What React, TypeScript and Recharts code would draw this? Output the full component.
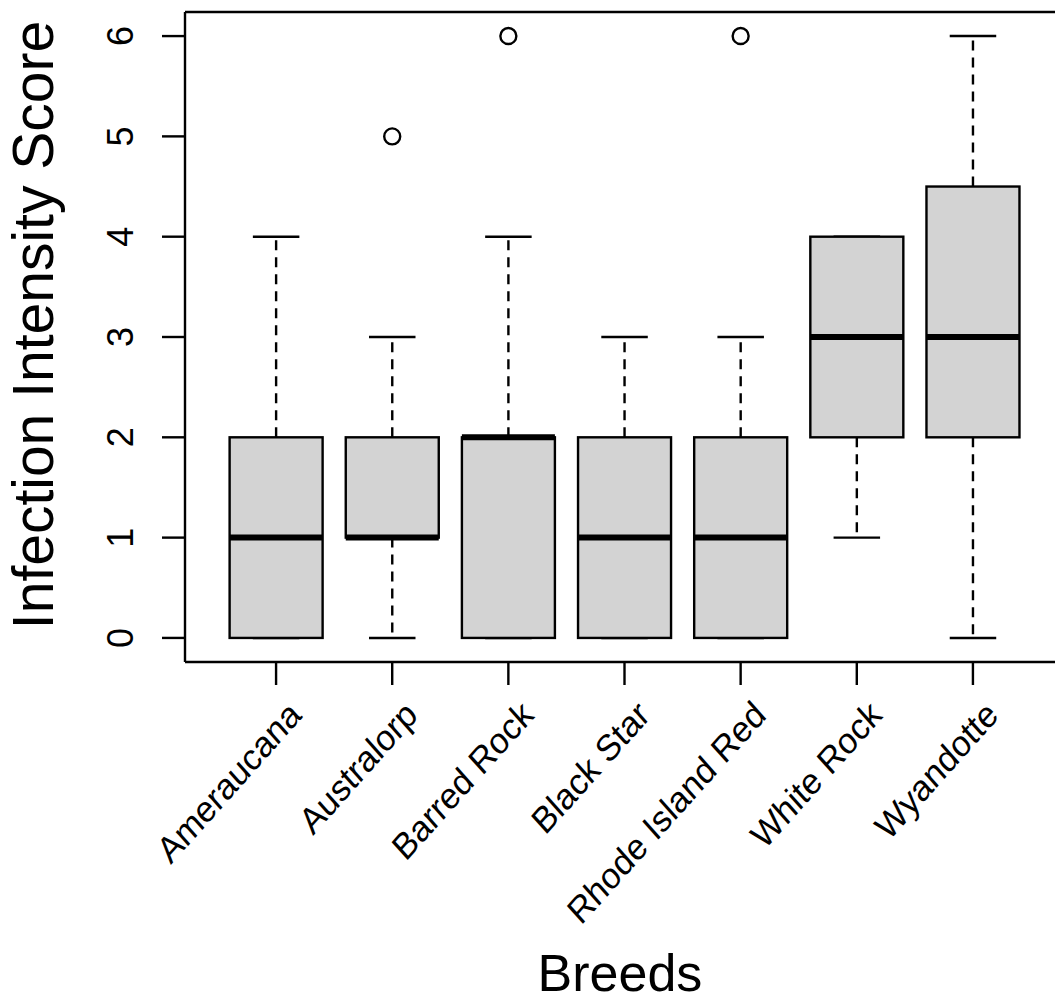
import React from 'react'
import { ComposedChart, Bar, Scatter, XAxis, YAxis } from 'recharts'

// boxplot stats
const breeds = ['Ameraucana', 'Australorp', 'Barred Rock', 'Black Star', 'Rhode Island Red', 'White Rock', 'Wyandotte']
const whiskerLow = [0, 0, 0, 0, 0, 1, 0]
const lowerQ = [0, 1, 0, 0, 0, 2, 2]
const medians = [1, 1, 2, 1, 1, 3, 3]
const upperQ = [2, 2, 2, 2, 2, 4, 4.5]
const whiskerHigh = [4, 3, 4, 3, 3, 4, 6]
const outliers: (number | null)[] = [null, 5, 6, null, 6, null, null]
const yTicks = [0, 1, 2, 3, 4, 5, 6]
const yDomain = [-0.24, 6.24]

const FONT = '"Liberation Sans", Arial, Helvetica, sans-serif'
const INK = '#000'
const LW = 2.4
const PAD = { left: 33, right: 33 }

const data = breeds.map((name, i) => ({
  name,
  range: [whiskerLow[i], whiskerHigh[i]],
  low: whiskerLow[i],
  q1: lowerQ[i],
  median: medians[i],
  q3: upperQ[i],
  high: whiskerHigh[i],
  outlier: outliers[i],
}))

function BoxShape(props: any) {
  const { x, y, width, height, payload } = props
  if (!payload) return <g />
  const top = Math.min(y, y + height)
  const h = Math.abs(height)
  const { low, q1, median, q3, high } = payload
  const px = (v: number) => top + (h * (high - v)) / (high - low)
  const cx = x + width / 2
  const cap = width / 4
  return (
    <g>
      {q3 < high && (
        <line x1={cx} x2={cx} y1={px(q3)} y2={px(high)} stroke={INK} strokeWidth={LW} strokeDasharray="10 7" />
      )}
      {low < q1 && (
        <line x1={cx} x2={cx} y1={px(q1)} y2={px(low)} stroke={INK} strokeWidth={LW} strokeDasharray="10 7" />
      )}
      <line x1={cx - cap} x2={cx + cap} y1={px(high)} y2={px(high)} stroke={INK} strokeWidth={LW} />
      <line x1={cx - cap} x2={cx + cap} y1={px(low)} y2={px(low)} stroke={INK} strokeWidth={LW} />
      <rect x={x} y={px(q3)} width={width} height={px(q1) - px(q3)} fill="#d3d3d3" stroke={INK} strokeWidth={LW} />
      <line x1={x} x2={x + width} y1={px(median)} y2={px(median)} stroke={INK} strokeWidth={6} />
    </g>
  )
}

function OutlierDot(props: any) {
  const { cx, cy, payload } = props
  if (!payload || payload.outlier == null || cy == null || isNaN(cy)) return <g />
  return <circle cx={cx} cy={cy} r={8} fill="none" stroke={INK} strokeWidth={LW} />
}

function BreedTick(props: any) {
  const { x, y, payload } = props
  const ax = x + 27
  const ay = y + 30
  return (
    <g transform={`translate(${ax} ${ay}) scale(1 1.12) rotate(-45)`}>
      <text x={0} y={0} textAnchor="end" fontSize={33} fill={INK} fontFamily={FONT}>
        {payload.value}
      </text>
    </g>
  )
}

function ScoreTick(props: any) {
  const { x, y, payload } = props
  const ax = x - 27
  return (
    <text x={ax} y={y} transform={`rotate(-90 ${ax} ${y})`} textAnchor="middle" fontSize={36} fill={INK} fontFamily={FONT}>
      {payload.value}
    </text>
  )
}

function YTitle() {
  return (
    <text x={53} y={325} transform="rotate(-90 53 325)" textAnchor="middle" fontSize={57} fill={INK} fontFamily={FONT}>
      Infection Intensity Score
    </text>
  )
}

function XTitle() {
  return (
    <text x={620} y={991} textAnchor="middle" fontSize={52} fill={INK} fontFamily={FONT}>
      Breeds
    </text>
  )
}

export default function App() {
  return (
    <div style={{ position: 'absolute', left: 0, top: 0, width: 1055, height: 1002, overflow: 'hidden', background: '#fff' }}>
      <ComposedChart
        width={1080}
        height={1002}
        data={data}
        margin={{ top: 10, right: 16, bottom: 90, left: 105 }}
        barCategoryGap="10%"
      >
        <XAxis
          xAxisId="top"
          orientation="top"
          dataKey="name"
          type="category"
          padding={PAD}
          height={2}
          tick={false}
          tickLine={false}
          axisLine={{ stroke: INK, strokeWidth: LW }}
        />
        <XAxis
          xAxisId="x"
          dataKey="name"
          type="category"
          interval={0}
          padding={PAD}
          height={250}
          tickSize={23}
          tickLine={{ stroke: INK, strokeWidth: LW }}
          axisLine={{ stroke: INK, strokeWidth: LW }}
          tick={<BreedTick />}
          label={<XTitle />}
        />
        <YAxis
          type="number"
          domain={yDomain}
          ticks={yTicks}
          interval={0}
          allowDataOverflow
          width={80}
          tickSize={23}
          tickLine={{ stroke: INK, strokeWidth: LW }}
          axisLine={{ stroke: INK, strokeWidth: LW }}
          tick={<ScoreTick />}
          label={<YTitle />}
        />
        <Bar xAxisId="x" dataKey="range" shape={<BoxShape />} isAnimationActive={false} />
        <Scatter xAxisId="top" dataKey="outlier" shape={<OutlierDot />} isAnimationActive={false} />
      </ComposedChart>
    </div>
  )
}
